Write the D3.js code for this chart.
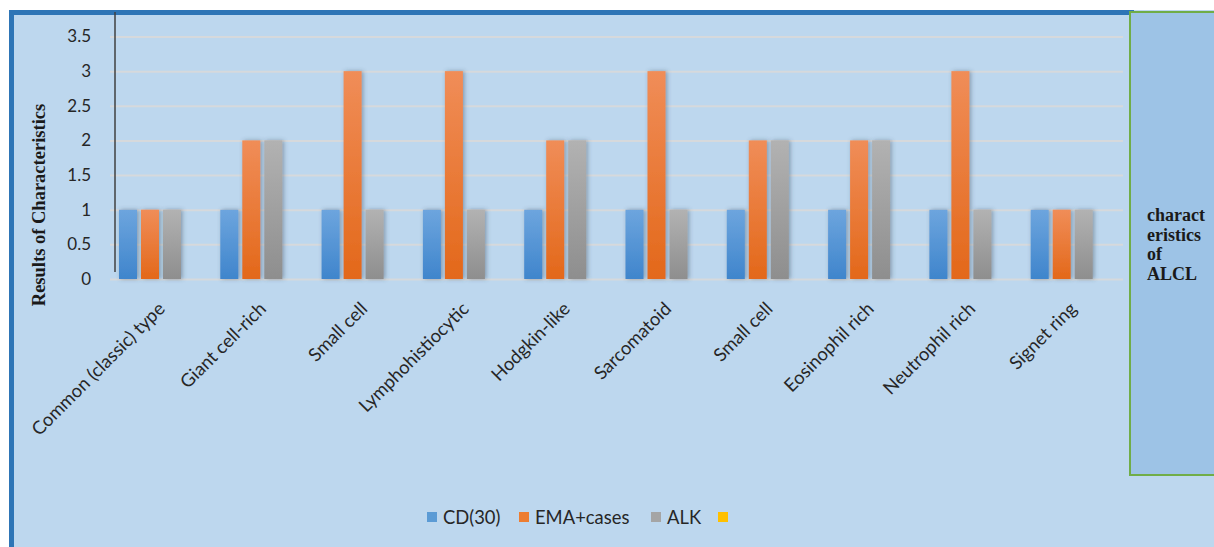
<!DOCTYPE html>
<html><head><meta charset="utf-8">
<script src="https://cdn.jsdelivr.net/npm/d3@7"></script>
<style>
html,body{margin:0;padding:0;background:#fff;}
svg{display:block;}
</style></head>
<body>
<svg id="chart" width="1214" height="547"></svg>
<script>
const categories = ["Common (classic) type","Giant cell-rich","Small cell","Lymphohistiocytic","Hodgkin-like","Sarcomatoid","Small cell","Eosinophil rich","Neutrophil rich","Signet ring"];
const seriesNames = ["CD(30)","EMA+cases","ALK"];
const cd30 = [1,1,1,1,1,1,1,1,1,1];
const emaCases = [1,2,3,3,2,3,2,2,3,1];
const alk = [1,2,1,1,2,1,2,2,1,1];
const yTicks = [0,0.5,1,1.5,2,2.5,3,3.5];
const legendNames = ["CD(30)","EMA+cases","ALK",""];
const sideText = ["charact","eristics","of","ALCL"];
const yTitle = "Results of Characteristics";

const seriesValues = [cd30, emaCases, alk];
const colors = [["#6DA5DE","#3F85CC"],["#F08D58","#E3681A"],["#B2B2B2","#8E8E8E"]];
const legendColors = ["#5B9BD5","#ED7D31","#A5A5A5","#FFC000"];
const labelFont = "Lato, 'Open Sans', sans-serif";

const svg = d3.select("#chart");
const defs = svg.append("defs");
colors.forEach((c,i)=>{
  const g = defs.append("linearGradient").attr("id","g"+i).attr("x1",0).attr("y1",0).attr("x2",0).attr("y2",1);
  g.append("stop").attr("offset","0%").attr("stop-color",c[0]);
  g.append("stop").attr("offset","100%").attr("stop-color",c[1]);
});
const f = defs.append("filter").attr("id","sh").attr("x","-50%").attr("y","-10%").attr("width","200%").attr("height","120%");
f.append("feDropShadow").attr("dx",1.5).attr("dy",0).attr("stdDeviation",2).attr("flood-color","#3a4a5a").attr("flood-opacity",0.45);

// background frame
svg.append("rect").attr("x",9).attr("y",10).attr("width",1230).attr("height",560).attr("fill","#BDD7EE");
svg.append("rect").attr("x",9).attr("y",10).attr("width",5).attr("height",560).attr("fill","#2E75B6");
svg.append("rect").attr("x",9).attr("y",10).attr("width",1125).attr("height",5).attr("fill","#2E75B6");

// side box
svg.append("rect").attr("x",1130).attr("y",12).attr("width",120).attr("height",463)
  .attr("fill","#9DC3E6").attr("stroke","#70AD47").attr("stroke-width",2);
const st = svg.append("text").attr("font-family","'Liberation Serif','Times New Roman',serif")
  .attr("font-weight","bold").attr("font-size",18).attr("fill","#1a1a1a");
sideText.forEach((t,i)=>st.append("tspan").attr("x",1147).attr("y",221+i*19.7).text(t));

const y = d3.scaleLinear().domain([0,3.5]).range([279,36.5]);
const x0 = d3.scaleBand().domain(d3.range(categories.length)).range([99.35,1112.35]);
const x1 = d3.scaleBand().domain(d3.range(seriesNames.length)).range([x0.bandwidth()/2-33, x0.bandwidth()/2+33])
  .paddingInner(4/22).paddingOuter(2/22);

// gridlines
const gg = svg.append("g").attr("transform","translate(1123,0)").call(d3.axisRight(y).tickValues(yTicks).tickSize(-(1123-110)).tickFormat(""));
gg.select(".domain").remove();
gg.selectAll("line").attr("stroke","#D6D9DC").attr("stroke-width",2);

// y tick labels
const ya = svg.append("g").attr("transform","translate(91,0)").call(d3.axisLeft(y).tickValues(yTicks).tickSize(0).tickPadding(0).tickFormat(d=>String(d)));
ya.select(".domain").remove();
ya.selectAll("text").attr("font-family","Lato, 'Open Sans', sans-serif").attr("font-size",17).attr("fill","#262626");

// y axis line
svg.append("line").attr("x1",115).attr("x2",115).attr("y1",12).attr("y2",272).attr("stroke","#404040").attr("stroke-width",1.5);

// bars
const groups = svg.append("g").selectAll("g").data(categories.map((c,i)=>i)).join("g")
  .attr("transform",i=>`translate(${x0(i)},0)`);
groups.selectAll("rect").data(i=>seriesValues.map((s,k)=>({k,v:s[i]}))).join("rect")
  .attr("x",d=>x1(d.k)).attr("width",x1.bandwidth())
  .attr("y",d=>y(d.v)).attr("height",d=>y(0)-y(d.v))
  .attr("fill",d=>`url(#g${d.k})`).attr("filter","url(#sh)");

// x labels
const xa = svg.append("g").attr("transform","translate(0,279)").call(d3.axisBottom(x0).tickSize(0).tickFormat(i=>categories[i]));
xa.select(".domain").remove();
xa.selectAll("text").attr("font-family",labelFont).attr("font-size",18.4).attr("fill","#262626")
  .attr("text-anchor","end").attr("dy",0).attr("y",0)
  .attr("transform","translate(16,31) rotate(-45)");

// y title
svg.append("text").attr("transform","translate(45,205) rotate(-90)").attr("text-anchor","middle")
  .attr("font-family","'Liberation Serif','Times New Roman',serif").attr("font-weight","bold").attr("font-size",18.5)
  .attr("fill","#1a1a1a").text(yTitle);

// legend
const legX = [427,519,651,718];
const lg = svg.append("g");
legendNames.forEach((n,i)=>{
  lg.append("rect").attr("x",legX[i]).attr("y",512).attr("width",10).attr("height",10).attr("fill",legendColors[i]);
  if(n) lg.append("text").attr("x",legX[i]+16).attr("y",524).attr("font-family",labelFont)
    .attr("font-size",18.4).attr("fill","#262626").text(n);
});
</script>
</body></html>
